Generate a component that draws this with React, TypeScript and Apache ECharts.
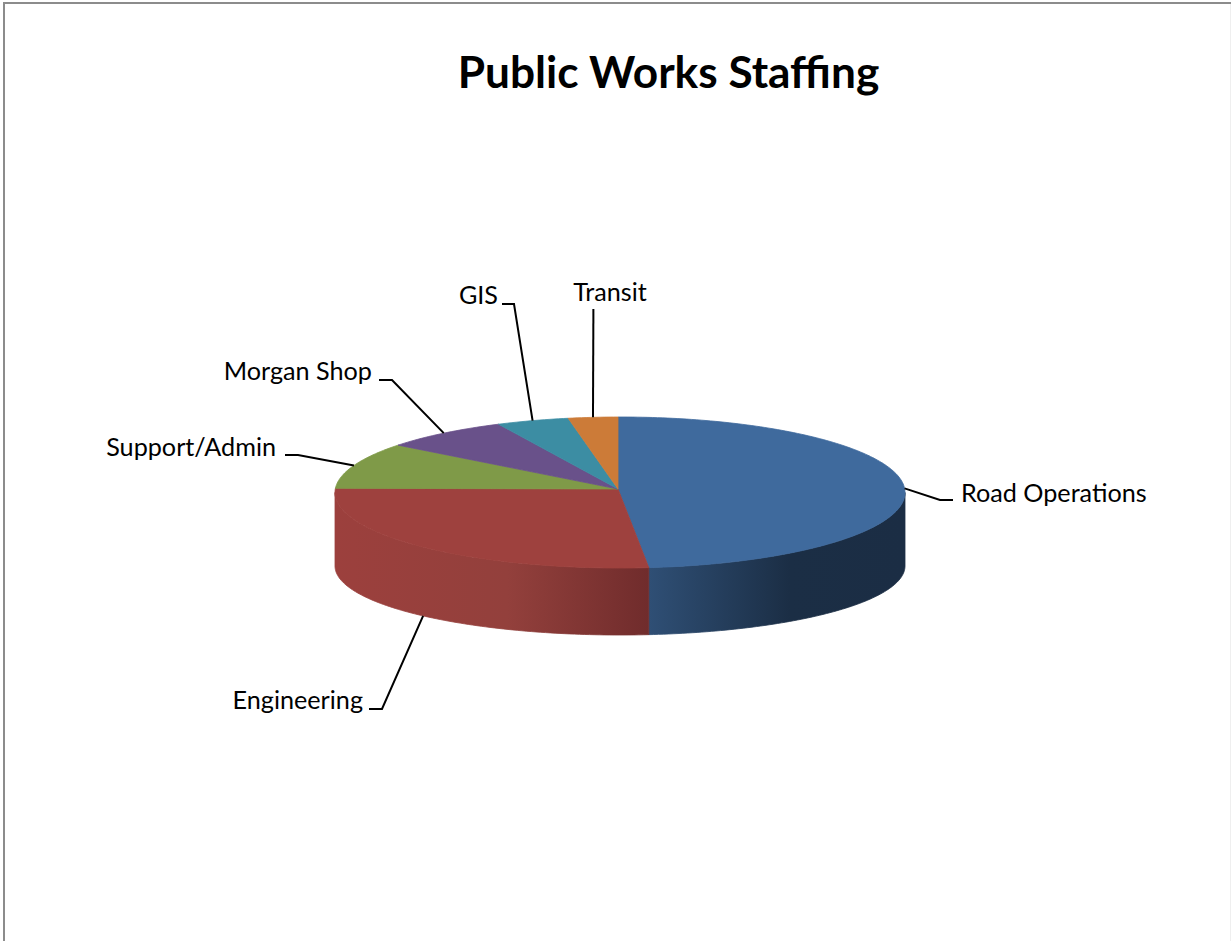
import React, { useEffect, useRef } from "react";
import * as echarts from "echarts";

const categories = ["Road Operations", "Engineering", "Support/Admin", "Morgan Shop", "GIS", "Transit"];
const shares = [48.5, 27.5, 9.9, 7.2, 4.1, 2.8];
const topColors = ["#3F6A9D", "#9E413E", "#7F9A48", "#69518A", "#3C8DA3", "#CC7B38"];
const sideStops = [
  ["#2F4F75", "#1B2E45", "#1B2D44"],
  ["#9C403D", "#93403C", "#702C2C"],
  ["#7F9A48", "#7F9A48", "#7F9A48"],
  ["#69518A", "#69518A", "#69518A"],
  ["#3C8DA3", "#3C8DA3", "#3C8DA3"],
  ["#CC7B38", "#CC7B38", "#CC7B38"],
];

const TOP = { cx: 620, cy: 492.5, rx: 285, ry: 75.5 };
const BOTTOM = { cx: 620, cy: 566, rx: 285, ry: 69 };
const APEX = [618, 489];
const FONT = "Lato";

// elbow of each leader line, then where its label sits
const leaderElbows = [
  [[940, 500], [953, 500]],
  [[382, 709], [369, 709]],
  [[298, 455], [285, 455]],
  [[392, 380], [379, 380]],
  [[514, 304], [502, 304]],
  [[593.4, 309], [593.4, 309]],
];
const labelSpots: { x: number; y: number; align: string }[] = [
  { x: 961, y: 492, align: "left" },
  { x: 363, y: 699, align: "right" },
  { x: 276, y: 446, align: "right" },
  { x: 372, y: 370, align: "right" },
  { x: 498, y: 294, align: "right" },
  { x: 610, y: 291, align: "center" },
];

const rad = (d: number) => (d * Math.PI) / 180;
const onEllipse = (e: typeof TOP, deg: number) => [
  e.cx + e.rx * Math.sin(rad(deg)),
  e.cy - e.ry * Math.cos(rad(deg)),
];
const arc = (e: typeof TOP, a: number, b: number) => {
  const out: number[][] = [];
  const n = Math.max(2, Math.ceil(Math.abs(b - a)));
  for (let i = 0; i <= n; i++) out.push(onEllipse(e, a + ((b - a) * i) / n));
  return out;
};

export default function App() {
  const ref = useRef<HTMLDivElement>(null);
  useEffect(() => {
    const chart = echarts.init(ref.current!, undefined, { renderer: "svg" });
    const total = shares.reduce((a, b) => a + b, 0);
    const starts: number[] = [];
    shares.reduce((acc, v, i) => {
      starts[i] = acc;
      return acc + (v / total) * 360;
    }, -0.4);

    chart.setOption({
      animation: false,
      backgroundColor: "#fff",
      title: {
        text: "Public Works Staffing",
        left: 663.5,
        top: 43,
        textAlign: "center",
        textStyle: { fontFamily: FONT, fontWeight: "bold", fontSize: 44.2, color: "#000" },
      },
      graphic: [
        {
          type: "polyline",
          silent: true,
          shape: { points: [[4, 941], [4, 3], [1231, 3]] },
          style: { stroke: "#8C8C8C", lineWidth: 2, fill: "none" },
        },
        {
          type: "line",
          silent: true,
          shape: { x1: 1230.5, y1: 4, x2: 1230.5, y2: 941 },
          style: { stroke: "#EFEFEF", lineWidth: 1 },
        },
      ],
      series: [
        {
          type: "custom",
          coordinateSystem: "none",
          silent: true,
          data: shares.map((v, i) => ({ name: categories[i], value: [v] })),
          renderItem: (params: any, api: any) => {
            const i = params.dataIndex;
            const a = starts[i];
            const b = a + (api.value(0) / total) * 360;
            const children: any[] = [];
            // visible side wall: the part of the sweep between 90 and 270 degrees
            const s = Math.max(a, 90);
            const t = Math.min(b, 270);
            if (t > s) {
              const st = sideStops[i];
              const grad = new echarts.graphic.LinearGradient(0, 0, 1, 0, [
                { offset: 0, color: st[0] },
                { offset: 0.55, color: st[1] },
                { offset: 1, color: st[2] },
              ]);
              children.push({
                type: "polygon",
                shape: { points: arc(TOP, s, t).concat(arc(BOTTOM, t, s)) },
                style: { fill: grad, stroke: grad, lineWidth: 0.8 },
              });
            }
            // top face
            children.push({
              type: "polygon",
              shape: { points: [APEX, ...arc(TOP, a, b)] },
              style: { fill: topColors[i], stroke: topColors[i], lineWidth: 0.8 },
            });
            // leader line from the rim at the slice's middle
            const mid = (a + b) / 2;
            const front = mid > 90 && mid < 270;
            const start = onEllipse(front ? BOTTOM : TOP, mid);
            children.push({
              type: "polyline",
              shape: { points: [start, ...leaderElbows[i]] },
              style: { stroke: "#000", lineWidth: 2, fill: "none" },
            });
            const spot = labelSpots[i];
            children.push({
              type: "text",
              style: {
                text: categories[i],
                x: spot.x,
                y: spot.y,
                align: spot.align,
                verticalAlign: "middle",
                fontFamily: FONT,
                fontSize: 25.2,
                fill: "#000",
              },
            });
            return { type: "group", children };
          },
        },
      ],
    });
    return () => chart.dispose();
  }, []);
  return <div ref={ref} style={{ position: "fixed", left: 0, top: 0, width: 1231, height: 941 }} />;
}
